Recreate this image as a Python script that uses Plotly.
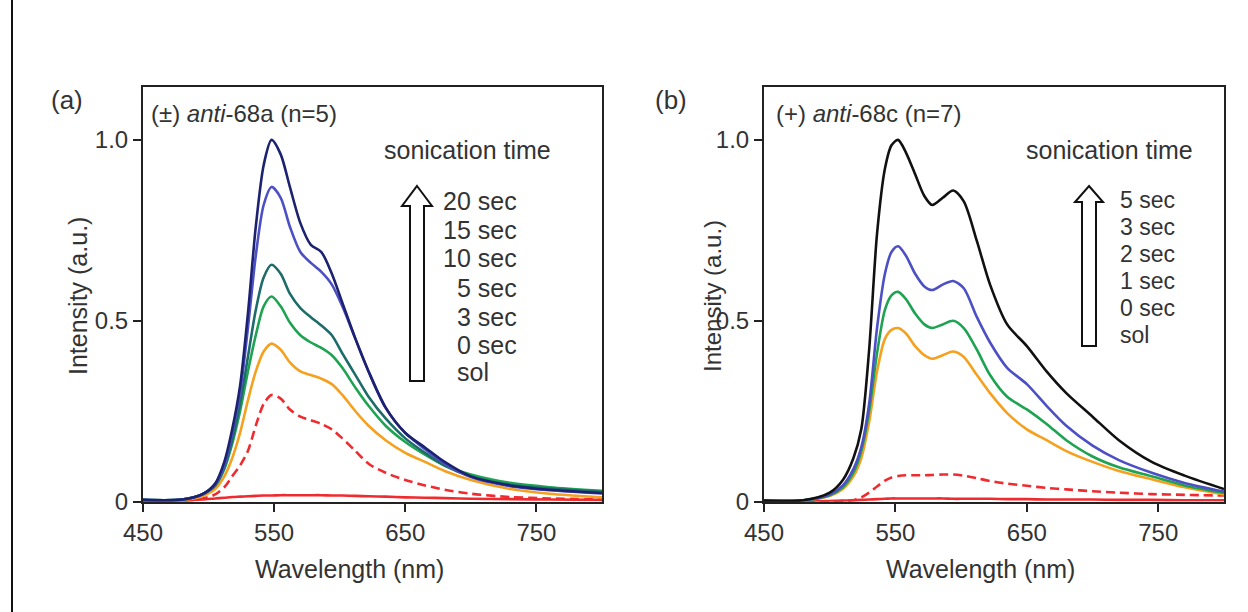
import plotly.graph_objects as go

W, H = 1248, 612

# ---------------- data: panel (a) ----------------
wl_a = [450, 480, 495, 505, 512, 518, 524, 530, 536, 542, 548, 555, 562, 570,
        578, 586, 594, 602, 612, 622, 635, 650, 665, 680, 700, 730, 760, 800]
a_20s = [0.005, 0.006, 0.02, 0.05, 0.11, 0.20, 0.32, 0.52, 0.76, 0.93, 1.0, 0.96, 0.87, 0.77,
         0.71, 0.69, 0.63, 0.55, 0.45, 0.36, 0.26, 0.19, 0.15, 0.11, 0.07, 0.045, 0.033, 0.024]
a_15s = [0.005, 0.006, 0.02, 0.048, 0.10, 0.19, 0.30, 0.48, 0.68, 0.82, 0.87, 0.84, 0.76, 0.69,
         0.66, 0.635, 0.60, 0.54, 0.45, 0.36, 0.26, 0.19, 0.145, 0.105, 0.068, 0.043, 0.032, 0.023]
a_10s = [0.005, 0.006, 0.02, 0.045, 0.095, 0.17, 0.27, 0.40, 0.53, 0.62, 0.655, 0.63, 0.575, 0.535,
         0.51, 0.487, 0.46, 0.41, 0.35, 0.29, 0.23, 0.175, 0.135, 0.10, 0.07, 0.047, 0.036, 0.027]
a_5s = [0.005, 0.006, 0.02, 0.044, 0.09, 0.16, 0.25, 0.36, 0.46, 0.54, 0.567, 0.54, 0.495, 0.46,
        0.44, 0.425, 0.405, 0.37, 0.315, 0.265, 0.21, 0.165, 0.13, 0.10, 0.075, 0.052, 0.04, 0.03]
a_3s = [0.004, 0.005, 0.015, 0.035, 0.07, 0.12, 0.19, 0.28, 0.36, 0.415, 0.437, 0.42, 0.385, 0.36,
        0.35, 0.34, 0.325, 0.295, 0.25, 0.21, 0.17, 0.135, 0.11, 0.085, 0.06, 0.035, 0.022, 0.012]
a_0s = [0.002, 0.003, 0.008, 0.02, 0.04, 0.07, 0.10, 0.14, 0.21, 0.27, 0.295, 0.285, 0.255, 0.235,
        0.225, 0.215, 0.20, 0.175, 0.14, 0.105, 0.08, 0.06, 0.045, 0.033, 0.022, 0.013, 0.009, 0.006]
a_sol = [0.0, 0.003, 0.006, 0.009, 0.011, 0.013, 0.014, 0.015, 0.016, 0.017, 0.017, 0.018, 0.018, 0.018,
         0.018, 0.018, 0.017, 0.017, 0.016, 0.015, 0.014, 0.012, 0.011, 0.01, 0.008, 0.007, 0.006, 0.005]

# ---------------- data: panel (b) ----------------
wl_b = [450, 480, 500, 510, 518, 524, 530, 536, 542, 547, 552, 558, 565, 572, 578,
        586, 594, 602, 612, 622, 635, 650, 665, 680, 700, 720, 745, 770, 800]
b_5s = [0.003, 0.004, 0.025, 0.06, 0.12, 0.20, 0.42, 0.74, 0.92, 0.985, 1.0, 0.965, 0.905, 0.845, 0.82,
        0.84, 0.86, 0.83, 0.72, 0.60, 0.49, 0.43, 0.36, 0.30, 0.235, 0.17, 0.11, 0.072, 0.035]
b_3s = [0.003, 0.004, 0.02, 0.045, 0.09, 0.15, 0.27, 0.48, 0.63, 0.69, 0.706, 0.68, 0.63, 0.595, 0.585,
        0.60, 0.61, 0.59, 0.51, 0.44, 0.37, 0.325, 0.265, 0.21, 0.155, 0.115, 0.08, 0.052, 0.028]
b_2s = [0.003, 0.004, 0.018, 0.04, 0.08, 0.14, 0.25, 0.41, 0.53, 0.57, 0.58, 0.56, 0.52, 0.49, 0.48,
        0.49, 0.50, 0.48, 0.42, 0.35, 0.29, 0.255, 0.215, 0.17, 0.125, 0.095, 0.07, 0.045, 0.024]
b_1s = [0.003, 0.004, 0.016, 0.035, 0.07, 0.12, 0.22, 0.36, 0.45, 0.475, 0.48, 0.465, 0.43, 0.405, 0.395,
        0.405, 0.415, 0.40, 0.35, 0.30, 0.245, 0.20, 0.17, 0.14, 0.11, 0.085, 0.062, 0.04, 0.02]
b_0s = [0.0, 0.0, 0.001, 0.002, 0.004, 0.012, 0.025, 0.042, 0.058, 0.067, 0.071, 0.073, 0.073, 0.073, 0.074,
        0.075, 0.075, 0.072, 0.065, 0.057, 0.05, 0.044, 0.038, 0.034, 0.029, 0.025, 0.021, 0.019, 0.017]
b_sol = [0.0, 0.001, 0.002, 0.003, 0.004, 0.005, 0.006, 0.007, 0.008, 0.009, 0.009, 0.009, 0.009, 0.009, 0.009,
         0.009, 0.008, 0.008, 0.008, 0.008, 0.007, 0.007, 0.006, 0.006, 0.006, 0.005, 0.005, 0.004, 0.004]

labels_a = ["20 sec", "15 sec", "10 sec", "5 sec", "3 sec", "0 sec", "sol"]
labels_b = ["5 sec", "3 sec", "2 sec", "1 sec", "0 sec", "sol"]

x_ticks = [450, 550, 650, 750]
y_ticks = [0, 0.5, 1.0]
y_ticktext = ["0", "0.5", "1.0"]

# ---------------- styling ----------------
FONT = "Liberation Sans, Arial, Helvetica, sans-serif"
TXT = "#333333"
NAVY, BLUE, TEAL, GREEN, ORANGE, RED = "#1c2270", "#4d50c4", "#1e6c6a", "#1ea352", "#f5a01e", "#ef2b2f"


def px(x):
    return x / W


def py(y):
    return 1 - y / H


fig = go.Figure()

series_a = [
    (a_sol, RED, "solid", "sol"), (a_0s, RED, "dash", "0 sec"), (a_3s, ORANGE, "solid", "3 sec"),
    (a_5s, GREEN, "solid", "5 sec"), (a_10s, TEAL, "solid", "10 sec"), (a_15s, BLUE, "solid", "15 sec"),
    (a_20s, NAVY, "solid", "20 sec"),
]
series_b = [
    (b_sol, RED, "solid", "sol"), (b_0s, RED, "dash", "0 sec"), (b_1s, ORANGE, "solid", "1 sec"),
    (b_2s, GREEN, "solid", "2 sec"), (b_3s, BLUE, "solid", "3 sec"), (b_5s, "#111111", "solid", "5 sec"),
]

for ys, col, dash, name in series_a:
    fig.add_trace(go.Scatter(x=wl_a, y=ys, mode="lines", name=name, xaxis="x", yaxis="y",
                             line=dict(color=col, width=2.6, shape="spline", smoothing=0.8,
                                       dash="9px,5px" if dash == "dash" else "solid"),
                             showlegend=False, hoverinfo="skip"))
for ys, col, dash, name in series_b:
    fig.add_trace(go.Scatter(x=wl_b, y=ys, mode="lines", name=name, xaxis="x2", yaxis="y2",
                             line=dict(color=col, width=2.6, shape="spline", smoothing=0.8,
                                       dash="9px,5px" if dash == "dash" else "solid"),
                             showlegend=False, hoverinfo="skip"))

ydom = [py(501.7), py(86.7)]
axis_common = dict(showline=True, mirror=True, linecolor="#222222", linewidth=2,
                   ticks="outside", ticklen=8, tickwidth=2, tickcolor="#222222",
                   showgrid=False, zeroline=False, automargin=False,
                   tickfont=dict(family=FONT, size=24, color=TXT))

fig.update_layout(
    template="none",
    width=W, height=H, margin=dict(l=0, r=0, t=0, b=0, pad=0), autosize=False,
    paper_bgcolor="white", plot_bgcolor="white",
    xaxis=dict(domain=[px(143), px(602)], range=[450, 800], tickvals=x_ticks, anchor="y",
               **axis_common),
    yaxis=dict(domain=ydom, range=[0, 1.147], tickvals=y_ticks, ticktext=y_ticktext, anchor="x",
               **axis_common),
    xaxis2=dict(domain=[px(764), px(1224)], range=[450, 800], tickvals=x_ticks, anchor="y2",
                **axis_common),
    yaxis2=dict(domain=ydom, range=[0, 1.147], tickvals=y_ticks, ticktext=y_ticktext, anchor="x2",
                **axis_common),
)

ann = []


def text(x, y, s, size=25, xanchor="center", angle=0):
    ann.append(dict(x=px(x), y=py(y), xref="paper", yref="paper", text=s, showarrow=False,
                    xanchor=xanchor, yanchor="middle", textangle=angle,
                    font=dict(family=FONT, size=size, color=TXT)))


# axis titles
text(349, 569, "Wavelength (nm)", size=25)
text(980, 569, "Wavelength (nm)", size=25)
text(78, 296, "Intensity (a.u.)", size=25, angle=-90)
text(712, 296, "Intensity (a.u.)", size=24, angle=-90)

text(67, 100, "(a)", size=26)
text(671, 100, "(b)", size=26)
text(149, 113, "(±) <i>anti</i>-68a (n=5)", size=24, xanchor="left")
text(774, 113, "(+) <i>anti</i>-68c (n=7)", size=24, xanchor="left")
text(467, 150, "sonication time", size=25)
text(1109, 150, "sonication time", size=25)

ya = [201, 230, 258, 288, 317, 345, 372]
for lab, yy in zip(labels_a, ya):
    if lab == "sol":
        text(455, yy, lab, xanchor="left")
    else:
        text(519, yy, lab, xanchor="right")
yb = [200, 227, 254, 281, 308, 335]
for lab, yy in zip(labels_b, yb):
    text(1118, yy, lab, size=23, xanchor="left")

fig.update_layout(annotations=ann)


def arrow_path(cx, tip, head_base, bottom, hw, sw):
    pts = [(cx, tip), (cx + hw, head_base), (cx + sw, head_base), (cx + sw, bottom),
           (cx - sw, bottom), (cx - sw, head_base), (cx - hw, head_base)]
    return "M " + " L ".join(f"{px(a):.5f},{py(b):.5f}" for a, b in pts) + " Z"


shapes = [
    dict(type="path", xref="paper", yref="paper", path=arrow_path(417, 186, 206, 381, 15, 7),
         line=dict(color="#111111", width=2), fillcolor="white"),
    dict(type="path", xref="paper", yref="paper", path=arrow_path(1089, 186, 202, 346, 14, 7),
         line=dict(color="#111111", width=2), fillcolor="white"),
    dict(type="line", xref="paper", yref="paper", x0=px(12), x1=px(12), y0=0, y1=1,
         line=dict(color="#111111", width=2)),
]
fig.update_layout(shapes=shapes)

fig.write_html("out.html", config={"displayModeBar": False, "responsive": False},
               post_script="document.body.style.margin='0px';document.body.style.overflow='hidden';")
